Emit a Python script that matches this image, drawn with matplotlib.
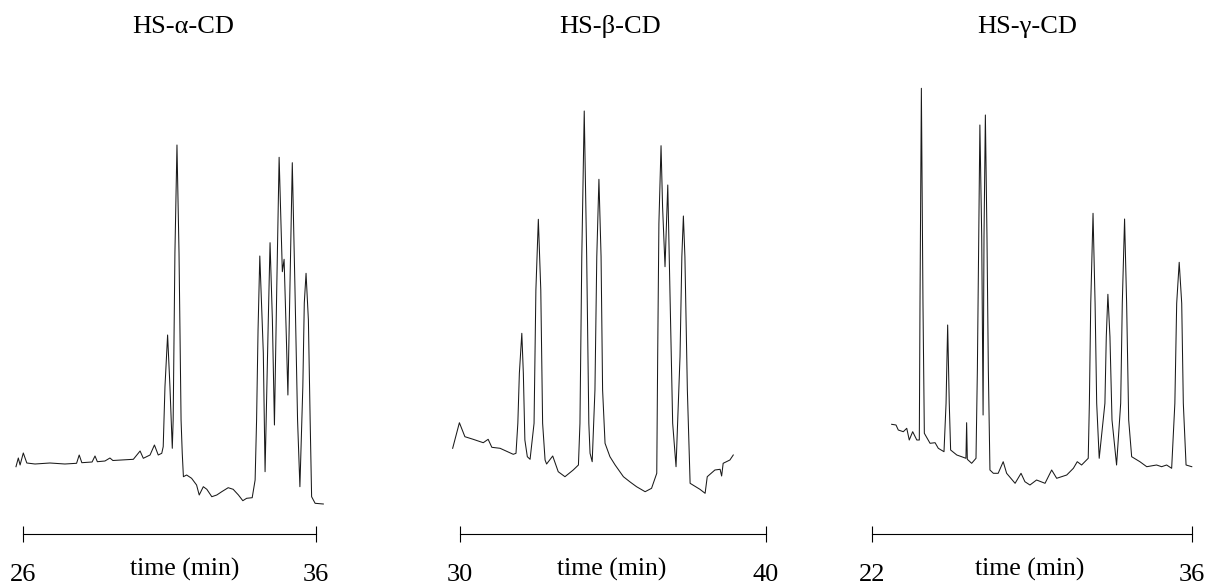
import matplotlib
matplotlib.use("Agg")
import matplotlib.pyplot as plt


# 1. Chromatogram data (time in min, detector response in arbitrary units)
alpha_time = [25.75, 25.83, 25.89, 26.00, 26.12, 26.40, 26.91, 27.42, 27.82, 27.91,
              28.00, 28.35, 28.45, 28.53, 28.79, 28.96, 29.06, 29.76, 29.99, 30.10,
              30.33, 30.48, 30.61, 30.73, 30.78, 30.84, 30.93, 31.01, 31.09, 31.12,
              31.18, 31.25, 31.32, 31.39, 31.43, 31.47, 31.58, 31.75, 31.92, 32.01,
              32.15, 32.27, 32.44, 32.61, 32.78, 33.00, 33.17, 33.35, 33.50, 33.63,
              33.82, 33.92, 33.97, 34.02, 34.08, 34.20, 34.26, 34.37, 34.43, 34.51,
              34.58, 34.66, 34.74, 34.80, 34.85, 34.91, 34.98, 35.04, 35.11, 35.19,
              35.28, 35.37, 35.45, 35.55, 35.60, 35.66, 35.74, 35.80, 35.85, 35.97,
              36.25]
alpha_signal = [67.3, 76, 69, 81, 71, 70, 71, 70, 70.7, 79,
                71.3, 72, 78, 72.3, 73, 76, 73.5, 74.7, 83, 75.7,
                79, 89, 79, 80.7, 87.3, 147.3, 199, 147.3, 85.7, 114,
                281, 389, 281, 114, 81, 57.3, 59, 55.7, 49, 39,
                47.3, 44.7, 37.3, 39, 42.3, 46.3, 44.7, 39, 33.3, 35.7,
                36.3, 54, 114, 204, 278, 181, 62.3, 214, 291.3, 214,
                109, 247.3, 376.7, 314, 262.3, 274.7, 204, 139, 247.3, 371.3,
                247.3, 114, 47.3, 147.3, 231, 260.7, 214, 114, 37.3, 30.7,
                30]

beta_time = [29.76, 29.98, 30.16, 30.43, 30.76, 30.92, 31.04, 31.31, 31.74, 31.83,
             31.89, 31.94, 32.02, 32.07, 32.12, 32.20, 32.29, 32.42, 32.48, 32.56,
             32.64, 32.70, 32.78, 32.83, 33.03, 33.21, 33.43, 33.70, 33.87, 33.92,
             33.98, 34.06, 34.14, 34.21, 34.25, 34.32, 34.41, 34.47, 34.54, 34.61,
             34.66, 34.74, 34.90, 35.07, 35.34, 35.56, 35.77, 36.05, 36.26, 36.43,
             36.46, 36.50, 36.57, 36.62, 36.70, 36.79, 36.86, 36.95, 37.06, 37.19,
             37.25, 37.30, 37.35, 37.43, 37.52, 37.84, 38.01, 38.08, 38.33, 38.50,
             38.55, 38.60, 38.82, 38.93]
beta_signal = [85.7, 111.3, 97.3, 94.7, 91.3, 94.7, 86.7, 85.7, 79.7, 80.7,
               110.7, 160.7, 200.7, 160.7, 94, 77.3, 74.7, 110.7, 244, 314.7,
               244, 110.7, 74, 70, 78, 62.3, 57.3, 64, 69, 110.7,
               277.3, 423, 277.3, 110.7, 80.7, 72.3, 144, 277.3, 354.7, 277.3,
               144, 90.7, 77.3, 69, 57.3, 52, 47.3, 42.3, 45.7, 60.7,
               177.3, 310.7, 388.3, 327.3, 267.3, 349, 244, 110.7, 67.3, 177.3,
               277.3, 318, 277.3, 144, 50.7, 44.7, 40.7, 57.3, 64, 64.7,
               58, 70.7, 74, 79]

gamma_time = [22.86, 23.05, 23.15, 23.37, 23.52, 23.63, 23.78, 23.96, 24.07, 24.10,
              24.16, 24.23, 24.29, 24.54, 24.76, 24.90, 25.15, 25.24, 25.31, 25.38,
              25.44, 25.71, 25.92, 26.11, 26.14, 26.17, 26.36, 26.55, 26.61, 26.67,
              26.72, 26.80, 26.86, 26.90, 26.96, 27.03, 27.09, 27.16, 27.31, 27.52,
              27.74, 27.89, 28.26, 28.52, 28.69, 28.91, 29.20, 29.57, 29.86, 30.08,
              30.52, 30.81, 30.98, 31.17, 31.46, 31.51, 31.57, 31.67, 31.76, 31.83,
              31.94, 32.19, 32.25, 32.32, 32.41, 32.50, 32.70, 32.88, 32.95, 33.05,
              33.14, 33.23, 33.36, 33.72, 34.02, 34.45, 34.67, 34.89, 35.11, 35.25,
              35.33, 35.44, 35.55, 35.62, 35.74, 35.99]
gamma_signal = [109.7, 109, 104, 102.3, 105.7, 94, 102.3, 94, 94, 230.7,
                445.7, 230.7, 100.7, 90.7, 91.3, 85.7, 82.3, 130.7, 209, 130.7,
                84, 79, 77.3, 75.7, 111.3, 74.7, 70.7, 75.7, 164, 297.3,
                409, 297.3, 119, 297.3, 419, 297.3, 164, 64, 60.7, 60.7,
                72.3, 60.7, 50.7, 60.7, 52.3, 49, 54, 50.7, 64, 55.7,
                59, 65.7, 72.3, 69, 75.7, 130.7, 230.7, 320.7, 230.7, 130.7,
                75.7, 130.7, 197.3, 239.7, 197.3, 114, 69, 130.7, 230.7, 315,
                230.7, 114, 77.3, 72.3, 67.3, 69, 67.3, 69, 65.7, 130.7,
                230.7, 271.7, 230.7, 130.7, 69, 67.3]

panel_titles = ["HS-\u03b1-CD", "HS-\u03b2-CD", "HS-\u03b3-CD"]
time_ranges = [(26, 36), (30, 40), (22, 36)]
tick_labels = [["26", "36"], ["30", "40"], ["22", "36"]]
traces = [(alpha_time, alpha_signal), (beta_time, beta_signal), (gamma_time, gamma_signal)]


# 2. Layout (pixels of the 1208 x 585 canvas)
W, H = 1208, 585
bar_px = [(23.3, 316), (460, 766), (872, 1192)]
bar_y, top_y = 534, 60
title_px = [(183, 27), (610, 27), (1027, 27)]
xlabel_px = [185, 612, 1030]

plt.rcParams["font.family"] = ["Liberation Serif", "DejaVu Serif"]

fig = plt.figure(figsize=(W / 100, H / 100), dpi=100)

for i in range(3):
    x0, x1 = bar_px[i]
    ax = fig.add_axes([x0 / W, (H - bar_y) / H, (x1 - x0) / W, (bar_y - top_y) / H])
    ax.patch.set_alpha(0)

    t, s = traces[i]
    ax.plot(t, s, color="#1a1a1a", linewidth=0.75, clip_on=False)

    ax.set_xlim(*time_ranges[i])
    ax.set_ylim(0, bar_y - top_y)

    # time scale bar
    for side in ["top", "right", "left"]:
        ax.spines[side].set_visible(False)
    ax.spines["bottom"].set_linewidth(0.8)
    ax.set_yticks([])
    ax.set_xticks(time_ranges[i])
    ax.set_xticklabels(tick_labels[i])
    ax.tick_params(axis="x", direction="inout", length=11, width=0.8, pad=16, labelsize=19)

    ax.set_xlabel("time (min)", fontsize=18.5, va="center")
    ax.xaxis.set_label_coords((xlabel_px[i] - x0) / (x1 - x0), -35 / (bar_y - top_y))

    tx, ty = title_px[i]
    fig.text(tx / W, 1 - ty / H, panel_titles[i], ha="center", va="center", fontsize=19)

fig.savefig("out.png", dpi=100)
